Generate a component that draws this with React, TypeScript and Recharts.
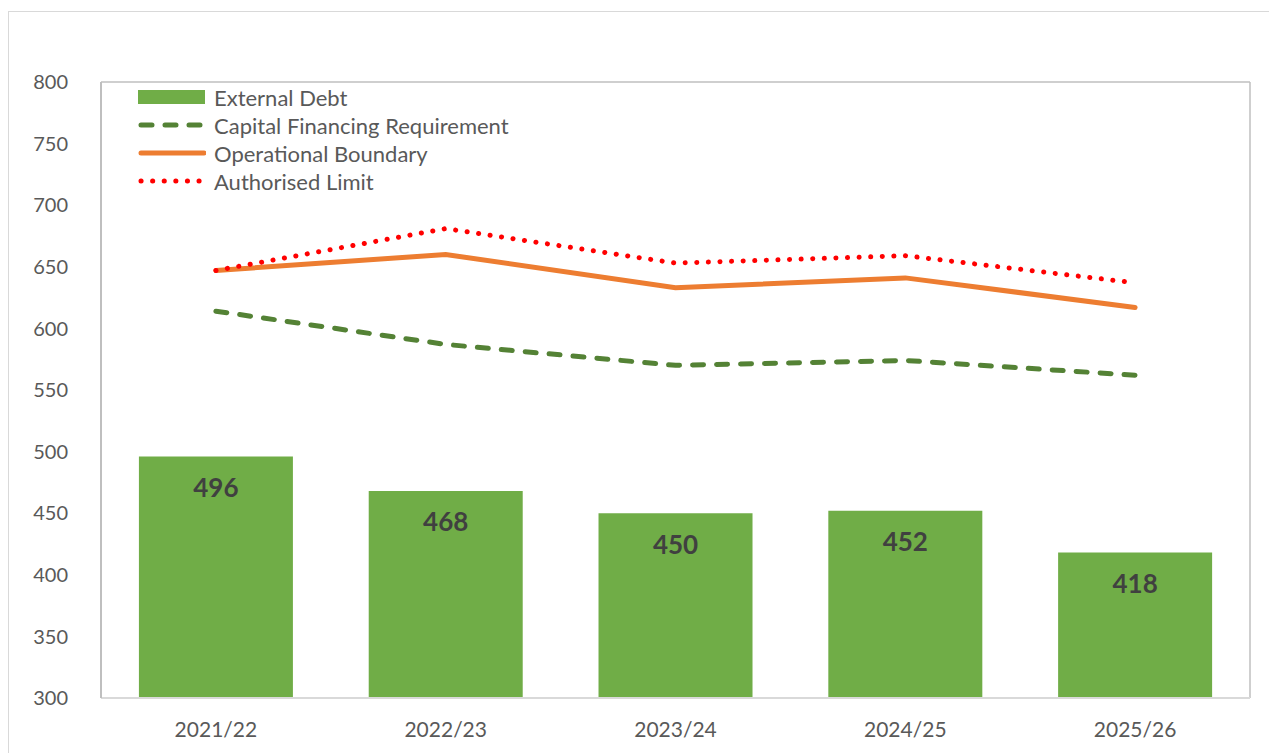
import {
  Bar,
  CartesianGrid,
  ComposedChart,
  LabelList,
  Legend,
  Line,
  XAxis,
  YAxis,
} from "recharts";

const categories = ["2021/22", "2022/23", "2023/24", "2024/25", "2025/26"];
const externalDebt = [496, 468, 450, 452, 418];
const capitalFinancing = [614, 587, 570, 574, 562];
const operationalBoundary = [647, 660, 633, 641, 617];
const authorisedLimit = [647, 681, 653, 659, 637];
const yTicks = [300, 350, 400, 450, 500, 550, 600, 650, 700, 750, 800];

const data = categories.map((year, i) => ({
  year,
  debt: externalDebt[i],
  cfr: capitalFinancing[i],
  ob: operationalBoundary[i],
  al: authorisedLimit[i],
}));

const FONT = "Lato, 'Noto Sans', sans-serif";
const TEXT = "#595959";

const legendItems = [
  { name: "External Debt", kind: "bar", color: "#70AD47" },
  { name: "Capital Financing Requirement", kind: "dash", color: "#548235" },
  { name: "Operational Boundary", kind: "solid", color: "#ED7D31" },
  { name: "Authorised Limit", kind: "dot", color: "#FF0000" },
];

function LegendBox() {
  return (
    <div style={{ display: "flex", flexDirection: "column" }}>
      {legendItems.map((it) => (
        <div key={it.name} style={{ display: "flex", alignItems: "center", height: 28 }}>
          <svg width={68} height={28}>
            {it.kind === "bar" && <rect x={0} y={7} width={67} height={14} fill={it.color} />}
            {it.kind === "dash" && (
              <line x1={3} y1={14} x2={66} y2={14} stroke={it.color} strokeWidth={5}
                strokeLinecap="round" strokeDasharray="11 13" />
            )}
            {it.kind === "solid" && (
              <line x1={3} y1={14} x2={66} y2={14} stroke={it.color} strokeWidth={5} strokeLinecap="round" />
            )}
            {it.kind === "dot" && (
              <line x1={3} y1={14} x2={66} y2={14} stroke={it.color} strokeWidth={5}
                strokeLinecap="round" strokeDasharray="0.1 11.5" />
            )}
          </svg>
          <span style={{ marginLeft: 8, fontFamily: FONT, fontSize: 22, color: TEXT, whiteSpace: "nowrap" }}>
            {it.name}
          </span>
        </div>
      ))}
    </div>
  );
}

export default function App() {
  return (
    <>
      <style>{"html,body{overflow:hidden}"}</style>
      <div
        style={{
          marginTop: 3,
          width: 1268,
          height: 741,
          borderTop: "1px solid #d9d9d9",
          borderLeft: "1px solid #d9d9d9",
          background: "#fff",
        }}
      >
        <ComposedChart
          width={1268}
          height={741}
          data={data}
          margin={{ top: 70, right: 27, bottom: 25, left: 32 }}
          barCategoryGap="16.5%"
        >
          <CartesianGrid
            stroke="#bfbfbf"
            strokeWidth={1.5}
            horizontalCoordinatesGenerator={({ offset }: any) => [offset.top]}
            verticalCoordinatesGenerator={({ offset }: any) => [offset.left + offset.width]}
          />
          <XAxis
            dataKey="year"
            height={30}
            tickLine={false}
            tickSize={0}
            tickMargin={24}
            axisLine={{ stroke: "#d9d9d9", strokeWidth: 2 }}
            tick={{ fill: TEXT, fontSize: 21, fontFamily: FONT }}
          />
          <YAxis
            width={60}
            domain={[300, 800]}
            ticks={yTicks}
            allowDataOverflow
            tickLine={false}
            tickSize={0}
            tickMargin={33}
            axisLine={{ stroke: "#bfbfbf", strokeWidth: 2 }}
            tick={{ fill: TEXT, fontSize: 20, fontFamily: FONT }}
          />
          <Legend
            layout="vertical"
            align="center"
            verticalAlign="middle"
            content={() => <LegendBox />}
            wrapperStyle={{ top: 71, left: 129, width: "auto" }}
          />
          <Bar dataKey="debt" name="External Debt" fill="#70AD47" isAnimationActive={false}>
            <LabelList
              dataKey="debt"
              position="insideTop"
              offset={22}
              fill="#404040"
              style={{ fontFamily: FONT, fontSize: 26, fontWeight: 700 }}
            />
          </Bar>
          <Line
            dataKey="cfr"
            name="Capital Financing Requirement"
            stroke="#548235"
            strokeWidth={5}
            strokeDasharray="11 13"
            strokeLinecap="round"
            dot={false}
            activeDot={false}
            isAnimationActive={false}
          />
          <Line
            dataKey="ob"
            name="Operational Boundary"
            stroke="#ED7D31"
            strokeWidth={5}
            strokeLinecap="round"
            dot={false}
            activeDot={false}
            isAnimationActive={false}
          />
          <Line
            dataKey="al"
            name="Authorised Limit"
            stroke="#FF0000"
            strokeWidth={5}
            strokeDasharray="0.1 11.5"
            strokeLinecap="round"
            dot={false}
            activeDot={false}
            isAnimationActive={false}
          />
        </ComposedChart>
      </div>
    </>
  );
}
